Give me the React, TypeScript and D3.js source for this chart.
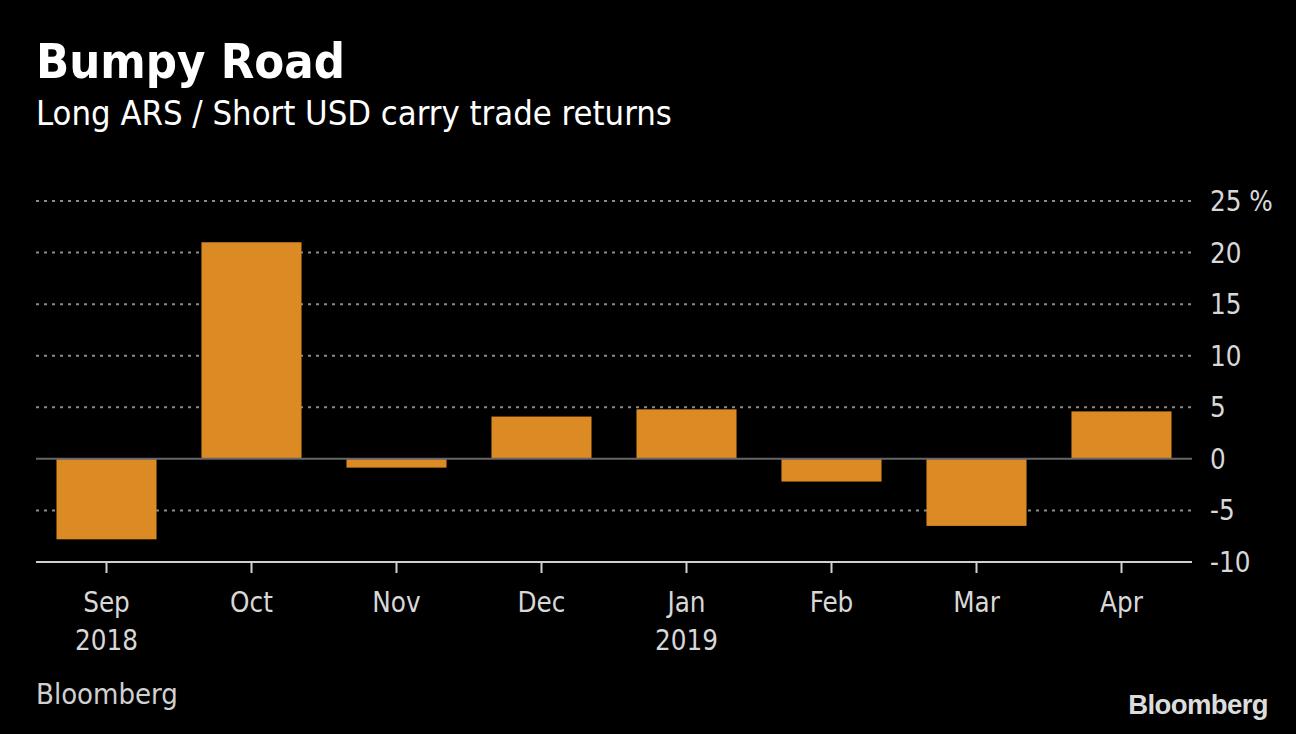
import React from "react";
import * as d3 from "d3";

const months = ["Sep", "Oct", "Nov", "Dec", "Jan", "Feb", "Mar", "Apr"];
const years = ["2018", "", "", "", "2019", "", "", ""];
const returns = [-7.8, 21.0, -0.85, 4.1, 4.8, -2.2, -6.5, 4.6];
const yTicks = [25, 20, 15, 10, 5, 0, -5, -10];

const W = 1296;
const H = 734;
const FONT = "'DejaVu Sans Condensed', 'DejaVu Sans', sans-serif";

export default function App() {
  const x = d3.scaleBand<string>().domain(months).range([34, 1194]).paddingInner(0.31).paddingOuter(0.155);
  const y = d3.scaleLinear().domain([-10, 25]).range([562, 201]);
  const plotLeft = 36;
  const plotRight = 1192;
  return (
    <svg width={W} height={H} style={{ position: "absolute", left: 0, top: 0, background: "#000" }}>
      <rect x={0} y={0} width={W} height={H} fill="#000" />
      <text x={36} y={78} fill="#fff" fontFamily={FONT} fontWeight="bold" fontSize={48.5}>Bumpy Road</text>
      <text x={36} y={125} fill="#fff" fontFamily={FONT} fontSize={34.3}>Long ARS / Short USD carry trade returns</text>
      {yTicks.filter((t) => t !== -10 && t !== 0).map((t) => (
        <line key={"g" + t} x1={plotLeft} x2={plotRight} y1={y(t)} y2={y(t)} stroke="#8a8a8a" strokeWidth={2} strokeDasharray="3,5" />
      ))}
      {returns.map((v, i) => (
        <rect key={months[i]} x={x(months[i])} width={x.bandwidth()} y={y(Math.max(0, v))} height={Math.abs(y(v) - y(0))} fill="#dc8a24" />
      ))}
      <line x1={plotLeft} x2={plotRight} y1={y(0)} y2={y(0)} stroke="#666" strokeWidth={2} />
      <line x1={plotLeft} x2={plotRight} y1={y(-10)} y2={y(-10)} stroke="#d0d0d0" strokeWidth={2} />
      {months.map((m) => {
        const cx = (x(m) as number) + x.bandwidth() / 2;
        return (
          <line key={"t" + m} x1={cx} x2={cx} y1={y(-10)} y2={y(-10) + 11} stroke="#d0d0d0" strokeWidth={2} />
        );
      })}
      {months.map((m, i) => {
        const cx = (x(m) as number) + x.bandwidth() / 2;
        return (
          <g key={"l" + m}>
            <text x={cx} y={612} fill="#d8d8d8" fontFamily={FONT} fontSize={27.5} textAnchor="middle">{m}</text>
            {years[i] && <text x={cx} y={650} fill="#d8d8d8" fontFamily={FONT} fontSize={27.5} textAnchor="middle">{years[i]}</text>}
          </g>
        );
      })}
      {yTicks.map((t) => (
        <text key={"y" + t} x={1210} y={y(t) + 10} fill="#d8d8d8" fontFamily={FONT} fontSize={27.5}>
          {t < 0 ? "-" + Math.abs(t) : String(t)}{t === 25 ? " %" : ""}
        </text>
      ))}
      <text x={36} y={704} fill="#d0d0d0" fontFamily={FONT} fontSize={29}>Bloomberg</text>
      <text x={1268} y={714} fill="#dcdcdc" fontFamily="'Liberation Sans', Arial, sans-serif" fontWeight="bold" fontSize={27.5} textAnchor="end" letterSpacing={-0.6}>Bloomberg</text>
    </svg>
  );
}
